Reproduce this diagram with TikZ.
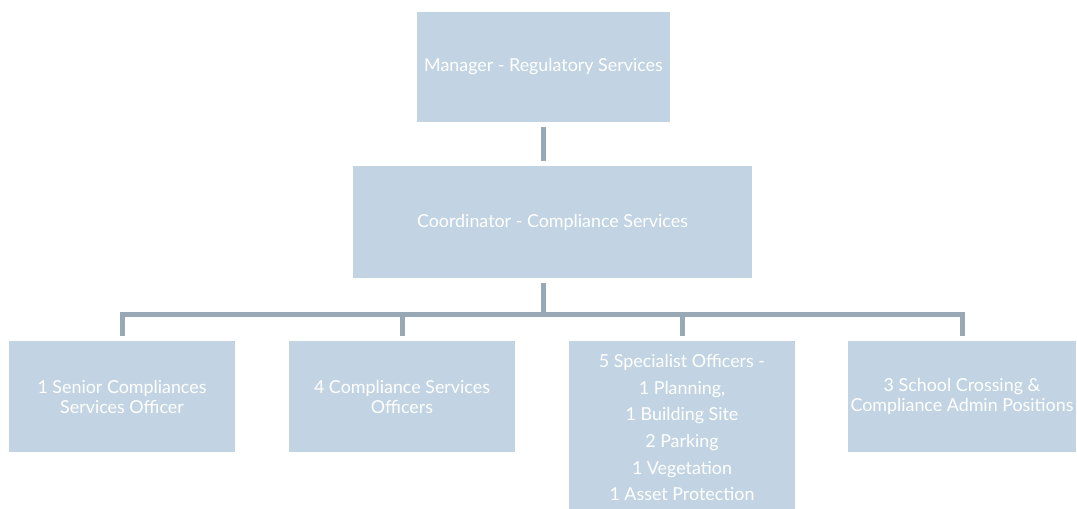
\documentclass[tikz,border=0pt]{standalone}
\usepackage{fontspec}
\setmainfont{Lato}
\definecolor{boxfill}{HTML}{C2D4E3}
\definecolor{linkgray}{HTML}{98A8B5}
\tikzset{
	post/.style={fill=boxfill, text=white, align=center, inner sep=2pt, font=\fontsize{13.4}{15}\selectfont},
	link/.style={draw=linkgray, line width=3.75pt, shorten <=3.75pt, shorten >=3.75pt}
}
\begin{document}
\begin{tikzpicture}[x=0.75pt,y=0.75pt,yscale=-1,xscale=1]
	\useasboundingbox (0,0) rectangle (1077,508);
	\node [post, minimum width=189.75pt, minimum height=82.5pt] (mgr) at (543.5,67) {Manager - Regulatory Services};
	\node [post, minimum width=299.25pt, minimum height=84pt] (coord) at (552.5,222) {Coordinator - Compliance Services};

	\node [post, minimum width=169.5pt, minimum height=83.25pt] (senior) at (122,396.5) {1 Senior Compliances\\Services Officer};
	\node [post, minimum width=169.5pt, minimum height=83.25pt] (cso) at (402,396.5) {4 Compliance Services\\Officers};
	\node [post, minimum width=169.5pt, minimum height=129.75pt, font=\fontsize{13.4}{20}\selectfont] (spec) at (682,427.5) {5 Specialist Officers -\\1 Planning,\\1 Building Site\\2 Parking\\1 Vegetation\\1 Asset Protection};
	\node [post, minimum width=169.5pt, minimum height=83.25pt] (school) at (962,396.5) {3 School Crossing \&\\Compliance Admin Positions};

	\coordinate (bus) at (543.5,314.5);
	\draw [link] (mgr) -- (mgr |- coord.north);
	\draw [link, shorten >=0pt] (bus |- coord.south) -- (bus);
	\foreach \n in {senior,cso,spec,school}
		\draw [link, shorten <=0pt, line join=miter] (bus) -| (\n);
\end{tikzpicture}
\end{document}
